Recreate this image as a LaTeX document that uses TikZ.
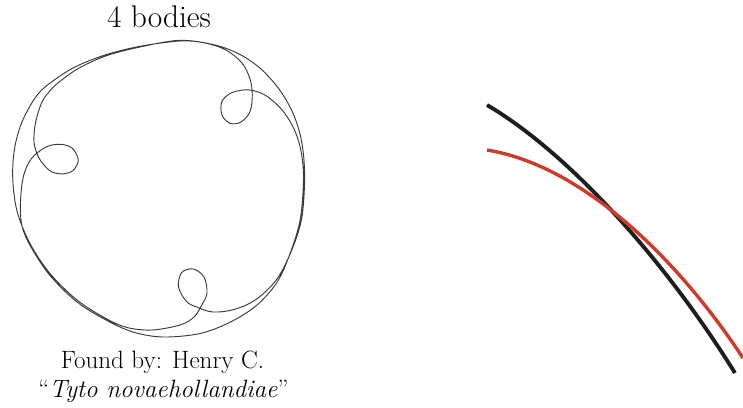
\documentclass[tikz,border=0pt]{standalone}
\usepackage{tikz}
\definecolor{orbitline}{HTML}{3A3A3A}
\definecolor{trackdark}{HTML}{1E1E1E}
\definecolor{trackred}{HTML}{CF3B2B}
\tikzset{
  orbit/.style={draw=orbitline, line width=0.8pt, line join=round},
  heading/.style={font=\fontsize{26.8}{32}\selectfont, anchor=base, inner sep=0pt},
  caption/.style={font=\fontsize{21.4}{25}\selectfont, anchor=base, inner sep=0pt},
  darktrack/.style={draw=trackdark, line width=3.3pt},
  redtrack/.style={draw=trackred, line width=2.9pt},
}

\begin{document}
\begin{tikzpicture}[x=0.03cm, y=-0.03cm]
    \useasboundingbox (0,0) rectangle (743,407);
    \node[heading] (title) at (159,27.5) {4 bodies};
    % orbit traced once round, both windings
    \draw[orbit] plot[smooth cycle, tension=0.55] coordinates {
      (180,41) (205,43) (226,50) (242,63) (250,79) (252.3,95)
      (250,111.7) (241,122) (230,123.3) (222,115) (221.7,102) (230,93.5)
      (243,90) (255,91) (268,97) (283,111) (294.5,130) (301,151)
      (303.5,178) (300.5,218) (291,251) (277.5,281.5) (257,305) (230.5,322)
      (200,333.5) (163,337) (133,332) (106,320) (77,302) (50,275.5)
      (31,247) (22,226) (20.5,202) (23.5,176) (31.5,158.5) (46,147)
      (60,144.3) (72,148) (78.3,160) (73,170.5) (63,173.8) (52,172)
      (44,165) (38,156) (34,142) (35.5,123) (42,102) (52,88.5)
      (63,79) (80,67.5) (107,55.5) (140,47) (180,40.3) (215,45)
      (240,54.5) (261,69) (279,89) (292,111) (300,134) (303.8,158)
      (304.5,185) (301.5,219.5) (291.8,250) (277,279) (256,299.5) (234,309.5)
      (213,312) (198,307.5) (186.7,301.7) (178.5,287) (181.7,272.5) (193.3,269)
      (204,277) (207,293) (201.5,305.5) (194,317) (180,325) (152,330)
      (127,327.5) (106,318.5) (77,300) (50,273.5) (30,243.5) (17,211)
      (12.7,177) (15,146) (23.3,119) (38,94) (55,79.5) (76,66.5)
      (105,55) (140,46.3)
    };
    \node[caption] (finder) at (162.5,368) {Found by: Henry C.};
    \node[caption] (species) at (163.5,397) {``\textit{Tyto novaehollandiae}''};
    % close-up of the two tracks
    \coordinate (darkstart) at (487,105);
    \coordinate (darkend) at (735,373);
    \coordinate (redstart) at (487,150);
    \coordinate (redend) at (743,358);
    \draw[darktrack] (darkstart) .. controls (572,155) and (668,265) .. (darkend);
    \draw[redtrack] (redstart) .. controls (580,165) and (675,255) .. (redend);
\end{tikzpicture}
\end{document}
